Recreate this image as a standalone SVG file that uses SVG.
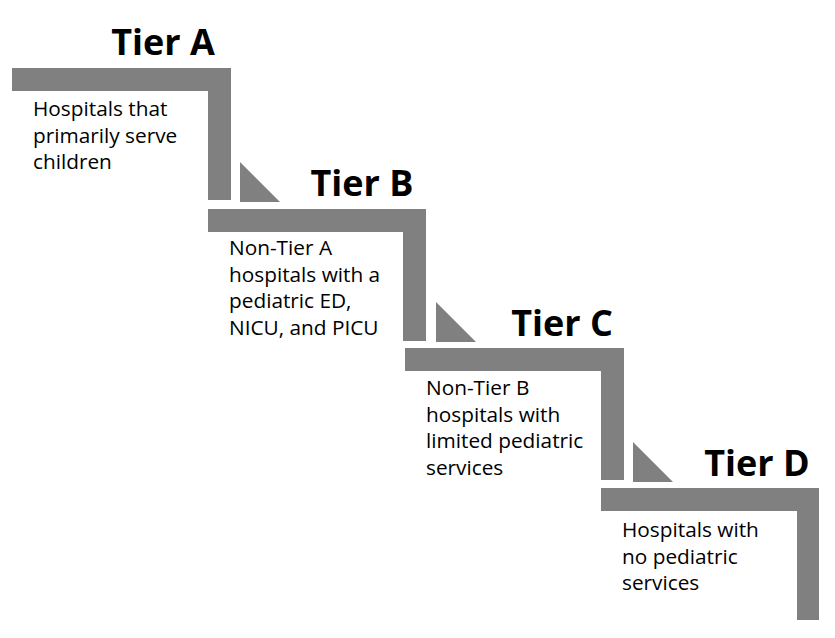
<svg xmlns="http://www.w3.org/2000/svg" width="835" height="638" viewBox="0 0 835 638">
<style>
.step{fill:#808080}
.tri{fill:#808080}
.title{font-family:"Open Sans","Liberation Sans",sans-serif;font-weight:bold;font-size:36px;fill:#000;text-anchor:middle}
.body{font-family:"Open Sans","Liberation Sans",sans-serif;font-size:20.8px;fill:#000}
</style>
<rect width="835" height="638" fill="#fff"/>
<g id="connectors">
<polygon class="tri" points="240,162 280,202 240,202"/>
<polygon class="tri" points="436,302 476,342 436,342"/>
<polygon class="tri" points="633,442 673,482 633,482"/>
</g>
<g id="tierA">
<polygon class="step" points="12,68 231,68 231,200 208,200 208,91 12,91"/>
<text class="title" x="163" y="55">Tier A</text>
<text class="body" x="33" y="116"><tspan x="33">Hospitals that</tspan><tspan x="33" dy="26.5">primarily serve</tspan><tspan x="33" dy="26.5">children</tspan></text>
</g>
<g id="tierB">
<polygon class="step" points="208,209 426,209 426,341 403,341 403,232 208,232"/>
<text class="title" x="362" y="196">Tier B</text>
<text class="body" x="229" y="255"><tspan x="229">Non-Tier A</tspan><tspan x="229" dy="26.5">hospitals with a</tspan><tspan x="229" dy="26.5">pediatric ED,</tspan><tspan x="229" dy="26.5">NICU, and PICU</tspan></text>
</g>
<g id="tierC">
<polygon class="step" points="405,348 624,348 624,480 601,480 601,371 405,371"/>
<text class="title" x="562" y="336">Tier C</text>
<text class="body" x="426" y="395"><tspan x="426">Non-Tier B</tspan><tspan x="426" dy="26.5">hospitals with</tspan><tspan x="426" dy="26.5">limited pediatric</tspan><tspan x="426" dy="26.5">services</tspan></text>
</g>
<g id="tierD">
<polygon class="step" points="601,488 819,488 819,620 797,620 797,511 601,511"/>
<text class="title" x="757" y="476">Tier D</text>
<text class="body" x="622" y="537"><tspan x="622">Hospitals with</tspan><tspan x="622" dy="26.5">no pediatric</tspan><tspan x="622" dy="26.5">services</tspan></text>
</g>
</svg>
